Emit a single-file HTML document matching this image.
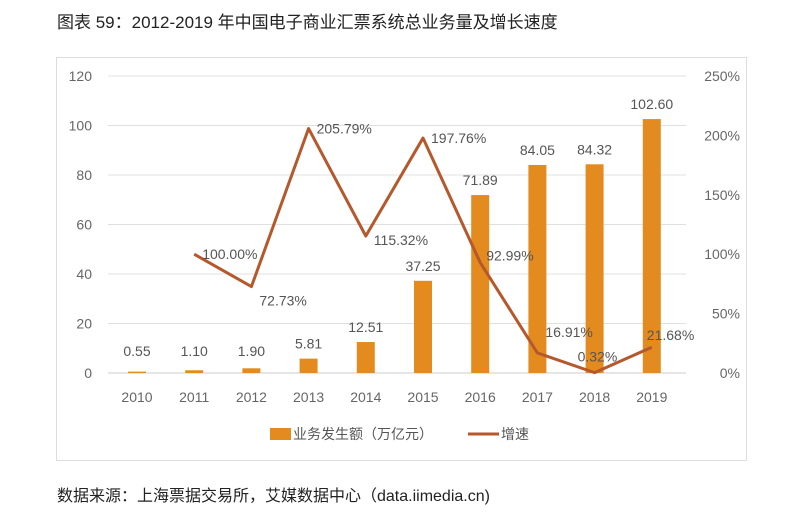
<!DOCTYPE html>
<html><head><meta charset="utf-8"><style>
body{margin:0;background:#fff;width:810px;height:513px;overflow:hidden;font-family:"Liberation Sans","Noto Sans CJK SC",sans-serif;}
svg text{font-family:"Liberation Sans","Noto Sans CJK SC",sans-serif;}
</style></head><body>
<svg width="810" height="513">
<text x="57" y="28" font-size="17" fill="#222">图表 59：2012-2019 年中国电子商业汇票系统总业务量及增长速度</text>
<rect x="56.5" y="57.5" width="690" height="403" fill="#fff" stroke="#ddd"/>
<g id="grid"></g><g id="bars"></g><g id="line"></g><g id="labels"></g>
<g>
<rect x="270" y="428" width="21" height="12" fill="#E48B1F"/>
<text x="293" y="439" font-size="14" fill="#555">业务发生额（万亿元）</text>
<line x1="468" y1="434" x2="499" y2="434" stroke="#B5582C" stroke-width="3"/>
<text x="501" y="439" font-size="14" fill="#555">增速</text>
</g>
<text x="57" y="501" font-size="16" fill="#222">数据来源：上海票据交易所，艾媒数据中心（data.iimedia.cn)</text>
</svg>
<script>
const years=["2010","2011","2012","2013","2014","2015","2016","2017","2018","2019"];
const volume=[0.55,1.10,1.90,5.81,12.51,37.25,71.89,84.05,84.32,102.60];
const volLabels=["0.55","1.10","1.90","5.81","12.51","37.25","71.89","84.05","84.32","102.60"];
const growth=[null,100.00,72.73,205.79,115.32,197.76,92.99,16.91,0.32,21.68];
const growthLabels=["","100.00%","72.73%","205.79%","115.32%","197.76%","92.99%","16.91%","0.32%","21.68%"];
const leftTicks=[0,20,40,60,80,100,120];
const rightTicks=["0%","50%","100%","150%","200%","250%"];
const NS="http://www.w3.org/2000/svg";
const y0=373,yTop=76,x0=137,dx=57.2;
const xs=i=>x0+i*dx;
const yl=v=>y0-v/120*(y0-yTop);
const yr=v=>y0-v/250*(y0-yTop);
function mk(parent,tag,attrs,txt){const e=document.createElementNS(NS,tag);for(const k in attrs)e.setAttribute(k,attrs[k]);if(txt!=null)e.textContent=txt;document.getElementById(parent).appendChild(e);return e;}
leftTicks.forEach(t=>{
 const g=mk('grid','line',{x1:108,x2:686,y1:yl(t),y2:yl(t),stroke:t===0?'#ccc':'#e0e0e0'});
 
 
 const l=mk('grid','text',{x:92,y:yl(t)+5,'font-size':14,fill:'#666','text-anchor':'end'},t);
 
 
});
rightTicks.forEach((t,i)=>{
 const l=mk('grid','text',{x:740,y:yr(i*50)+5,'font-size':14,fill:'#666','text-anchor':'end'},t);
 
 
});
years.forEach((yy,i)=>{
 const l=mk('grid','text',{x:xs(i),y:402,'font-size':14,fill:'#666','text-anchor':'middle'},yy);
 
 
 const b=mk('bars','rect',{x:xs(i)-9,y:yl(volume[i]),width:18,height:y0-yl(volume[i]),fill:'#E48B1F'});
 
 
 const vl=mk('labels','text',{x:xs(i),y:Math.min(yl(volume[i])-10,356),'font-size':14,fill:'#555','text-anchor':'middle'},volLabels[i]);
 
 
});
let pts=[];growth.forEach((g,i)=>{if(g!=null)pts.push(xs(i)+','+yr(g));});
const pl=mk('line','polyline',{points:pts.join(' '),fill:'none',stroke:'#B5582C','stroke-width':3,'stroke-linejoin':'round'});


growth.forEach((g,i)=>{if(g==null)return;
 const l=mk('labels','text',{x:xs(i)+8,y:yr(g)+(i===2||i===4||i===8?19:5),'font-size':14,fill:'#555'},growthLabels[i]);
 if(i===8){l.setAttribute('x',xs(i)-17);l.setAttribute('y',yr(g)-11);}
 if(i===7){l.setAttribute('y',yr(g)-16);}
 if(i===9){l.setAttribute('x',xs(i)-5);l.setAttribute('y',yr(g)-7);}
 if(i===6){l.setAttribute('x',xs(i)+6);l.setAttribute('y',yr(g)-2);}
 if(i===4){l.setAttribute('y',yr(g)+9);}
 
 
});
</script>
</body></html>
